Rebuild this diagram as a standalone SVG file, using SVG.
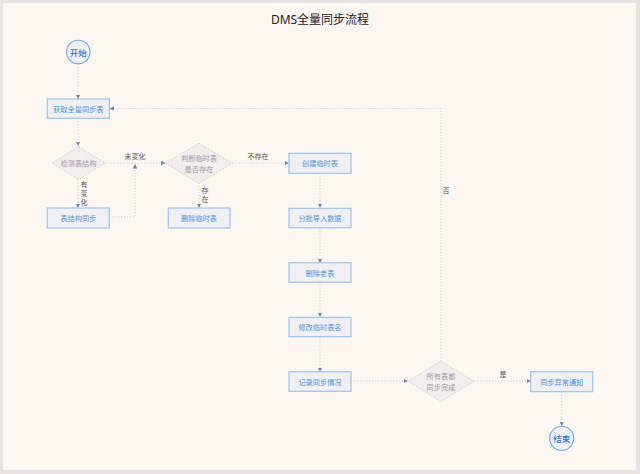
<svg xmlns="http://www.w3.org/2000/svg" width="640" height="474" viewBox="0 0 640 474">
<defs>
<marker id="arr" viewBox="0 0 6 6" refX="6" refY="3" markerWidth="4.5" markerHeight="4.5" orient="auto" markerUnits="userSpaceOnUse">
<path d="M0,0 L6,3 L0,6 Z" fill="#7483aa"/>
</marker>
<style>
.bg{fill:#e6e3e3}
.panel{fill:#fdf7f2}
.title{font-family:"Noto Sans","Noto Sans CJK SC",sans-serif;font-size:12px;fill:#222;text-anchor:middle}
.box rect{fill:#f0eff4;stroke:#9cc4f0;stroke-width:1.2}
.box text{font-family:"Noto Sans CJK SC",sans-serif;font-size:7.2px;fill:#4f92dc;text-anchor:middle;dominant-baseline:central}
.dia polygon{fill:#f3eeee;stroke:#cfcacf;stroke-width:0.9;stroke-dasharray:2 1.5}
.dia text{font-family:"Noto Sans CJK SC",sans-serif;font-size:7.2px;fill:#9a9aa6;text-anchor:middle;dominant-baseline:central}
.term circle{fill:#f0f2f8;stroke:#6aa6ec;stroke-width:1.1}
.term text{font-family:"Noto Sans CJK SC",sans-serif;font-size:8.5px;font-weight:500;fill:#2b78d8;text-anchor:middle;dominant-baseline:central}
.edges path{fill:none;stroke:#bfc2d2;stroke-width:0.8;stroke-dasharray:1.2 1.8;marker-end:url(#arr)}
.lbl{font-family:"Noto Sans CJK SC",sans-serif;font-size:7px;fill:#555;text-anchor:middle;dominant-baseline:central}
</style>
</defs>
<rect class="bg" x="0" y="0" width="640" height="474"/>
<rect class="panel" x="3" y="3" width="633" height="467"/>
<text class="title" x="320" y="24">DMS全量同步流程</text>

<g class="edges" id="connectors">
<path d="M78,64 L78,99"/>
<path d="M78,118 L78,146"/>
<path d="M78,180 L78,208"/>
<path d="M109,217 L135,217 L135,164"/>
<path d="M105,163 L165.5,163"/>
<path d="M199,183 L199,208"/>
<path d="M232.5,163 L289,163"/>
<path d="M320,173 L320,208"/>
<path d="M320,228 L320,263"/>
<path d="M320,282 L320,317"/>
<path d="M320,337 L320,372"/>
<path d="M351,381 L408,381"/>
<path d="M474,381 L531,381"/>
<path d="M441,361 L441,108.5 L109.5,108.5"/>
<path d="M561.7,392 L561.7,426"/>
</g>
<g id="edge-labels">
<text class="lbl" x="84" y="184">有</text>
<text class="lbl" x="84" y="193">变</text>
<text class="lbl" x="84" y="202">化</text>
<text class="lbl" x="135" y="156">未变化</text>
<text class="lbl" x="205" y="190">存</text>
<text class="lbl" x="205" y="199">在</text>
<text class="lbl" x="258" y="156">不存在</text>
<text class="lbl" x="503" y="374">是</text>
<text class="lbl" x="446" y="190">否</text>
</g>

<g class="term" id="start"><circle cx="78.3" cy="52" r="11.7"/><text x="78.3" y="52">开始</text></g>
<g class="box" id="fetch"><rect x="47.3" y="99" width="62" height="19.3"/><text x="78.3" y="108.7">获取全量同步表</text></g>
<g class="dia" id="check"><polygon points="78.5,146.5 105,163 78.5,179.5 52,163"/><text x="78.5" y="163">检测表结构</text></g>
<g class="box" id="schema-sync"><rect x="47.3" y="208" width="62" height="20"/><text x="78.3" y="218">表结构同步</text></g>
<g class="dia" id="judge"><polygon points="199,143.3 232.5,163.3 199,183.3 165.5,163.3"/><text x="199" y="158">判断临时表</text><text x="199" y="168.5">是否存在</text></g>
<g class="box" id="del-temp"><rect x="168.3" y="208" width="61.7" height="20"/><text x="199" y="218">删除临时表</text></g>
<g class="box" id="create-temp"><rect x="289" y="153.3" width="62" height="20"/><text x="320" y="163.3">创建临时表</text></g>
<g class="box" id="import"><rect x="289" y="208.3" width="62" height="19.4"/><text x="320" y="218">分批导入数据</text></g>
<g class="box" id="del-old"><rect x="289" y="262.7" width="62" height="19.6"/><text x="320" y="272.5">删除老表</text></g>
<g class="box" id="rename"><rect x="289" y="317.3" width="62" height="19.4"/><text x="320" y="327">修改临时表名</text></g>
<g class="box" id="record"><rect x="289" y="371.7" width="62" height="19.6"/><text x="320" y="381.5">记录同步情况</text></g>
<g class="dia" id="all-done"><polygon points="441,361 474,381.3 441,401.7 408.3,381.3"/><text x="441" y="376">所有表都</text><text x="441" y="386.5">同步完成</text></g>
<g class="box" id="notify"><rect x="530.7" y="371.7" width="62" height="20"/><text x="561.7" y="381.7">同步异常通知</text></g>
<g class="term" id="end"><circle cx="561.7" cy="438.3" r="12"/><text x="561.7" y="438.3">结束</text></g>
</svg>
